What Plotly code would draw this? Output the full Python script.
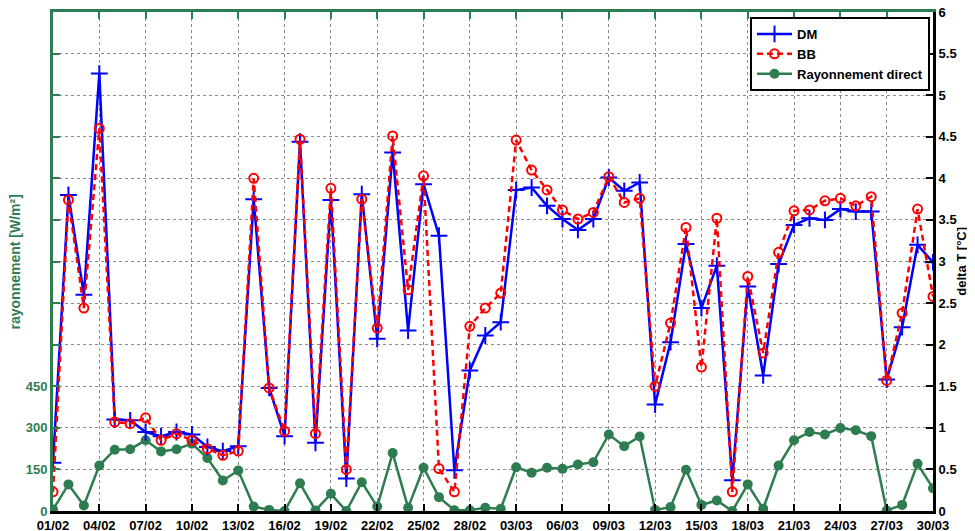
import pandas as pd
import plotly.graph_objects as go

# ---- data ----
dates = [d.strftime("%d/%m") for d in pd.date_range("2015-02-01", "2015-03-30", freq="D")]

dm = [0.58, 3.80, 2.60, 5.26, 1.10, 1.09, 0.95, 0.90, 0.95, 0.92,
      0.77, 0.72, 0.78, 3.75, 1.48, 0.90, 4.44, 0.82, 3.74, 0.39,
      3.81, 2.07, 4.31, 2.17, 3.93, 3.31, 0.49, 1.69, 2.11, 2.27,
      3.86, 3.89, 3.67, 3.51, 3.38, 3.51, 4.01, 3.85, 3.95, 1.28,
      2.03, 3.21, 2.44, 2.95, 0.37, 2.70, 1.63, 2.97, 3.44, 3.52,
      3.50, 3.63, 3.60, 3.60, 1.58, 2.21, 3.20, 2.99]

bb = [0.23, 3.74, 2.44, 4.60, 1.07, 1.05, 1.12, 0.85, 0.93, 0.85,
      0.75, 0.67, 0.72, 4.00, 1.48, 0.96, 4.47, 0.93, 3.88, 0.50,
      3.75, 2.20, 4.51, 2.66, 4.03, 0.51, 0.23, 2.22, 2.44, 2.62,
      4.46, 4.10, 3.86, 3.62, 3.51, 3.59, 4.02, 3.71, 3.76, 1.50,
      2.26, 3.41, 1.73, 3.52, 0.23, 2.82, 1.90, 3.11, 3.61, 3.62,
      3.73, 3.76, 3.67, 3.78, 1.57, 2.38, 3.63, 2.58]

rayonnement = [5, 96, 20, 164, 221, 223, 255, 215, 223, 243,
               191, 110, 146, 16, 4, 0, 100, 2, 62, 0,
               104, 16, 209, 12, 156, 50, 3, 3, 12, 8,
               158, 138, 156, 152, 168, 176, 276, 234, 269, 4,
               14, 149, 22, 38, 0, 96, 8, 164, 255, 285,
               276, 299, 291, 270, 2, 22, 170, 82]

left_ticks = [0, 150, 300, 450]
date_ticks = dates[::3]

GREEN = "#2E7D50"
FONT = "Liberation Sans"

fig = go.Figure()

fig.add_trace(go.Scatter(
    x=dates, y=dm, name="DM", xaxis="x", yaxis="y2",
    mode="lines+markers",
    line=dict(color="#0000FF", width=2.5),
    marker=dict(symbol="cross-thin", size=12, line=dict(color="#0000FF", width=2)),
))
fig.add_trace(go.Scatter(
    x=dates, y=bb, name="BB", xaxis="x", yaxis="y2",
    mode="lines+markers",
    line=dict(color="#FF0000", width=2.5, dash="6px,4px"),
    marker=dict(symbol="circle-open", size=9, color="#FF0000", line=dict(color="#FF0000", width=2)),
))
fig.add_trace(go.Scatter(
    x=dates, y=rayonnement, name="Rayonnement direct", xaxis="x", yaxis="y",
    mode="lines+markers",
    line=dict(color=GREEN, width=2.5),
    marker=dict(symbol="circle", size=10, color=GREEN),
))
# empty helper trace so the green top axis gets drawn
fig.add_trace(go.Scatter(
    x=[None], y=[None], xaxis="x2", yaxis="y", mode="markers",
    showlegend=False, hoverinfo="skip",
))

left_vals = list(range(0, 1801, 150))
left_text = [str(v) if v in left_ticks else "" for v in left_vals]

fig.update_layout(
    template="none",
    width=967, height=523,
    margin=dict(l=45, r=42, t=4, b=20, autoexpand=False),
    paper_bgcolor="white", plot_bgcolor="white",
    font=dict(family=FONT, size=13, color="black", weight="bold"),
    xaxis=dict(
        type="category", range=[0, 57], automargin=False, ticklabeloverflow="allow",
        tickmode="array", tickvals=date_ticks, ticktext=date_ticks,
        ticks="inside", ticklen=7, tickwidth=2, tickcolor="black",
        showline=True, linecolor="black", linewidth=3,
        showgrid=True, gridcolor="#8c8c8c", gridwidth=1, griddash="dot",
        tickfont=dict(family=FONT, size=13, color="black", weight="bold"),
        zeroline=False, anchor="y",
    ),
    xaxis2=dict(
        overlaying="x", side="top", anchor="y", range=[0, 57], automargin=False,
        tickmode="array", tickvals=list(range(0, 58, 3)),
        ticks="inside", ticklen=7, tickwidth=2, tickcolor=GREEN,
        showline=True, linecolor=GREEN, linewidth=3,
        showticklabels=False, showgrid=False, zeroline=False,
    ),
    yaxis=dict(
        range=[0, 1800], tickmode="array", tickvals=left_vals, ticktext=left_text,
        automargin=False, ticklabeloverflow="allow",
        ticks="inside", ticklen=7, tickwidth=2, tickcolor=GREEN,
        showline=True, linecolor=GREEN, linewidth=3,
        showgrid=True, gridcolor="#8c8c8c", gridwidth=1, griddash="dot",
        tickfont=dict(family=FONT, size=13, color=GREEN, weight="bold"),
        zeroline=False,
    ),
    yaxis2=dict(
        overlaying="y", side="right", anchor="x", range=[0, 6], dtick=0.5, tick0=0,
        automargin=False, ticklabeloverflow="allow",
        ticks="inside", ticklen=7, tickwidth=2, tickcolor="black",
        showline=True, linecolor="black", linewidth=3,
        showgrid=False, zeroline=False,
        tickfont=dict(family=FONT, size=13, color="black", weight="bold"),
    ),
    legend=dict(
        x=0.9966, y=0.99, xanchor="right", yanchor="top",
        bgcolor="white", bordercolor="black", borderwidth=2,
        font=dict(family=FONT, size=13, color="black", weight="bold"),
        itemwidth=35, tracegroupgap=0,
    ),
    showlegend=True,
)

fig.add_annotation(
    text="rayonnement [W/m²]", textangle=-90, showarrow=False,
    xref="paper", yref="paper", x=-0.0432, y=0.5, xanchor="center", yanchor="middle",
    font=dict(family=FONT, size=14, color=GREEN, weight="bold"),
)
fig.add_annotation(
    text="delta T [°C]", textangle=-90, showarrow=False,
    xref="paper", yref="paper", x=1.032, y=0.5, xanchor="center", yanchor="middle",
    font=dict(family=FONT, size=13, color="black", weight="bold"),
)

fig.write_html("out.html")
